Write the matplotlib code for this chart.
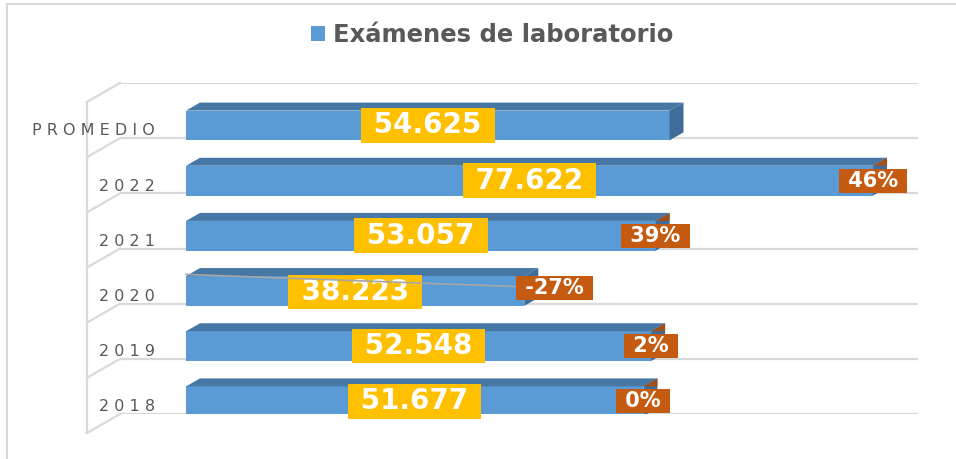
import matplotlib.pyplot as plt
from matplotlib.patches import Polygon
from matplotlib.transforms import blended_transform_factory

# Exámenes de laboratorio por año (bottom to top)
categories = ['2018', '2019', '2020', '2021', '2022', 'PROMEDIO']
values = [51677, 52548, 38223, 53057, 77622, 54625]
pct_labels = ['0%', '2%', '-27%', '39%', '46%', None]

front_col = '#5B9BD5'
top_col = '#4677A5'
side_col = '#3F6C98'
grid_col = '#D9D9D9'
text_col = '#595959'

W, H = 956, 459
fig = plt.figure(figsize=(W / 100, H / 100), dpi=100)
fig.patch.set_facecolor('white')

# plot area in pixels: floor from x=120..918, y=83..414
ax = fig.add_axes([120 / W, (H - 414) / H, 798 / W, 331 / H])
ax.set_xlim(-7460, 82700)
ax.set_ylim(-0.5, 5.5)
ax.axis('off')

# depth of the 3D bars, in data units
dx = 1580
dy = 0.145
bh = 0.54
yc = [i - 0.27 for i in range(len(categories))]

# floor lines and the left wall
for i in range(len(categories) + 1):
    ax.axhline(i - 0.5, color=grid_col, lw=1.6, zorder=0)
tw = blended_transform_factory(ax.transAxes, ax.transAxes)
wx = -33 / 798
wy = -19 / 331
ax.plot([wx, wx], [wy, 1 + wy], color=grid_col, lw=1.6, transform=tw, clip_on=False)
for i in range(len(categories) + 1):
    f = i / len(categories)
    ax.plot([wx, 0], [f + wy, f], color=grid_col, lw=1.6, transform=tw, clip_on=False)

# bars: front face via barh, top and side faces as polygons
bars = ax.barh(yc, values, height=bh, left=0, color=front_col, zorder=3,
               label='Exámenes de laboratorio')
for y, v in zip(yc, values):
    top = y + bh / 2
    ax.add_patch(Polygon([(0, top), (dx, top + dy), (v + dx, top + dy), (v, top)],
                         closed=True, facecolor=top_col, edgecolor='none', zorder=3))
    ax.add_patch(Polygon([(v, top), (v + dx, top + dy), (v + dx, top + dy - bh), (v, top - bh)],
                         closed=True, facecolor=side_col, edgecolor='none', zorder=3))

# category labels with spaced letters
tl = blended_transform_factory(ax.transAxes, ax.transData)
for i, c in enumerate(categories):
    ax.text(35 / 798, i - 0.37, ' '.join(c), transform=tl, ha='right', va='center',
            fontsize=11.5, color=text_col, family='DejaVu Sans')


def fmt(v):
    return f'{v:,}'.replace(',', '.')


# value labels in yellow boxes
for y, v in zip(yc, values):
    dy_lab = 0.0 if v > 40000 else -0.02
    ax.text(v / 2, y + dy_lab, ' ' + fmt(v) + ' ', ha='center', va='center',
            fontsize=20, fontweight='bold', color='white', family='DejaVu Sans', zorder=6,
            bbox=dict(boxstyle='square,pad=0.12', facecolor='#FFC000', edgecolor='none'))

# percentage change labels at the bar ends
shift = {2: 3400}
for i, (y, v, p) in enumerate(zip(yc, values, pct_labels)):
    if p is None:
        continue
    x = v + shift.get(i, 0)
    top = y + bh / 2
    if i not in shift:
        ax.add_patch(Polygon([(v, top), (v + dx, top + dy), (v + dx, top)], closed=True,
                             facecolor='#A0511A', edgecolor='none', zorder=4))
    else:
        # leader line from the bar to the moved label
        ax.plot([0, x - 4400], [top + 0.03, y + 0.08], color='#A6A6A6', lw=1.2, zorder=7)
    ax.text(x, y + (0.05 if i in shift else 0.0), ' ' + p + ' ', ha='center', va='center',
            fontsize=15, fontweight='bold', color='white', family='DejaVu Sans', zorder=8,
            bbox=dict(boxstyle='square,pad=0.1', facecolor='#C55A11', edgecolor='none'))

# legend used as title
fig.legend(handles=[bars], labels=['Exámenes de laboratorio'], loc='center',
           bbox_to_anchor=(492 / W, 1 - 35 / H), frameon=False, handlelength=0.6,
           handleheight=0.6, handletextpad=0.3,
           prop={'family': 'DejaVu Sans', 'weight': 'bold', 'size': 17.5}, labelcolor=text_col)

# outer chart border (left and top)
fig.add_artist(plt.Line2D([7 / W, 7 / W], [0, 1 - 4 / H], color=grid_col, lw=1.5))
fig.add_artist(plt.Line2D([7 / W, 1], [1 - 4 / H, 1 - 4 / H], color=grid_col, lw=1.5))

fig.savefig('out.png', dpi=100)
